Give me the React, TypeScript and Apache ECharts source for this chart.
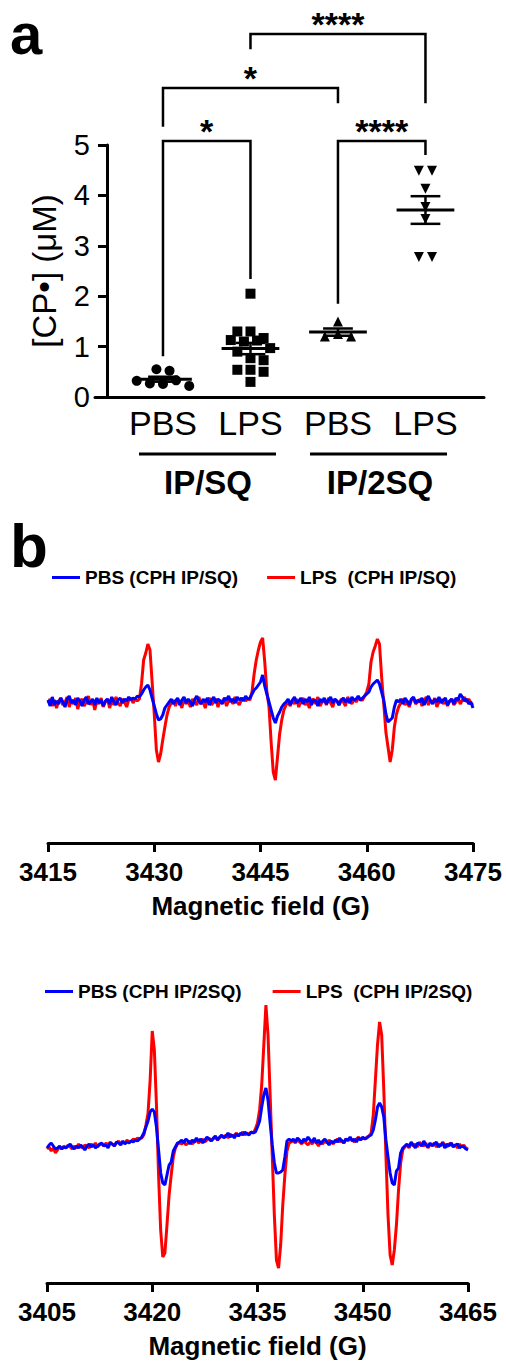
import React, { useEffect, useRef } from 'react';
import * as echarts from 'echarts';

// ---------- Panel a data ----------
const groupNames = ['PBS', 'LPS', 'PBS', 'LPS'];
const treatmentGroups = ['IP/SQ', 'IP/2SQ'];
const pbsIpSq = [0.55, 0.52, 0.32, 0.27, 0.26, 0.33, 0.22];
const lpsIpSq = [2.05, 1.3, 1.3, 1.13, 1.17, 1.1, 1.12, 0.97, 0.9, 0.77, 0.73, 0.54, 0.54, 0.5, 0.3];
const pbsIp2Sq = [1.2, 1.25, 1.2, 1.5];
const lpsIp2Sq = [4.49, 4.49, 4.13, 3.77, 3.53, 2.78, 2.78];
const yTicksA = [0, 1, 2, 3, 4, 5];
// significance comparisons: [groupA, groupB, label]
const comparisons: [number, number, string][] = [
  [0, 1, '*'],
  [2, 3, '****'],
  [0, 2, '*'],
  [1, 3, '****'],
];

// ---------- Panel b data (EPR spectra, 0.3 G sampling) ----------
const field1Start = 3415;
const field1Ticks = [3415, 3430, 3445, 3460, 3475];
const field2Start = 3405;
const field2Ticks = [3405, 3420, 3435, 3450, 3465];
const fieldStep = 0.3;

const pbsSpec1 = [
  2, -4, 5, -3, 1, -2, 4, 0, -5, 3, 6, -1, 2, -3, 4, 1, -4, 2, 5, -2, 0, 3, -3, 4, -1, 2, -4, 1, 3, -2, 5, 0, -3, 2, 4, -1, 3, 1, 5, 2, 4, 3, 6,
  5, 8, 12, 15, 17, 12, 4, -4, -12, -18, -17, -13, -6, -3, 0,
  3, -2, 1, 4, -3, 2, 5, -1, 3, 0, -4, 2, 6, 1, -2, 3, 0, 4, -3, 2, 5, -1, 3, 1, -2, 4, 2, 6, 0, 3, -1, 5, 2, 4, 1, 6, 3,
  4, 8, 12, 14, 17, 20, 27, 16, 8, 0, -8, -16, -21, -14, -10, -5, -2, 0,
  3, -3, 2, 5, -1, 1, 4, -2, 3, 0, 5, -3, 2, 1, -4, 3, 0, 4, -2, 2, 5, -1, 3, 1, -3, 2, 4, 0, 3, -1, 5, 2, 3, 6, 2,
  4, 6, 8, 10, 15, 18, 20, 22, 18, 10, 2, -12, -20, -18, -16, -5, 2, 0,
  3, -2, 4, 1, -3, 3, 5, -1, 2, 0, 4, -3, 2, 6, 1, -2, 3, 0, 5, -1, 2, 4, -3, 1, 3, -2, 4, 2, 8, 5, 1, 3, -2, 0, -6,
];
const lpsSpec1 = [
  -1, 3, -4, 2, -6, 1, 4, -3, 0, 5, -5, 2, -2, 4, -7, 1, 3, -4, 0, 6, -3, 2, -8, 1, -2, 4, -5, 0, 3, -6, 2, -3, 5, -1, -4, 3, 0, -5, 2, 4, -1, 3, 1,
  3, 18, 42, 49, 58, 52, 20, -12, -48, -60, -52, -38, -25, -13, -5, -1,
  2, -4, 3, 0, -6, 4, -2, 1, -5, 3, 0, -3, 5, -2, 1, -6, 2, 4, -3, 0, 3, -5, 2, -1, 4, -4, 1, 3, -2, 5, 0, -3, 2, 4, 1, 3,
  2, 10, 28, 42, 52, 60, 64, 40, 10, -5, -40, -70, -78, -55, -32, -18, -8, -3, 0,
  -4, 2, -2, 3, -5, 1, 4, -3, 0, -6, 2, 3, -2, 5, -4, 0, 2, -3, 4, -1, -5, 2, 1, -3, 3, 0, -4, 5, 1, -2, 3, 0, 4, 2,
  2, 6, 10, 18, 40, 50, 56, 63, 58, 25, -2, -30, -45, -60, -48, -25, -12, -5, -1,
  3, -3, 1, -5, 2, 4, -2, 0, 3, -4, 1, 5, -3, 2, -1, 4, -5, 0, 3, -2, 2, -4, 1, 3, -3, 0, 4, -2, 2, 5, 0, 3, -1, -3,
];
const pbsSpec2 = [
  -3, 0, 2, -1, -4, -3, -1, -4, -2, -3, -1, 1, -2, -4, -1, -3, 0, -2, -5, -1, 1, -2, 0, -3, -1, 1, 2, -1, 0, -3, 2, 1, -1, 3, 2, 0, 4, 1, 3, 2, 4, 3, 5, 4, 6,
  8, 12, 18, 24, 33, 36, 33, 18, -5, -28, -38, -40, -30, -20, -17, -6, -2, 2, 3,
  5, 2, 6, 4, 1, 5, 3, 7, 4, 6, 2, 5, 8, 6, 4, 7, 9, 5, 8, 10, 7, 9, 12, 8, 10, 7, 11, 9, 12, 10, 13, 11, 10, 13, 12,
  13, 18, 24, 38, 50, 57, 45, 22, 0, -18, -28, -28, -27, -25, -12, 4, 6, 4,
  6, 3, 7, 5, 2, 6, 4, 8, 5, 3, 7, 2, 5, 1, 4, 6, 3, 0, 4, 2, 5, 3, 7, 4, 2, 6, 5, 8, 4, 6, 3, 7, 5, 8, 6, 7, 9,
  10, 15, 25, 38, 42, 38, 28, 5, -12, -28, -38, -40, -26, -23, -8, -3, -1,
  1, -2, 3, 0, -3, 2, 1, -1, 4, 0, -2, 2, -1, 1, 3, -2, 0, 2, -3, 1, -1, 2, -2, 0, 1, -3, -1, -2, -4, -5,
];
const lpsSpec2 = [
  -4, -2, -6, -3, -8, -5, -2, -4, -1, -3, 0, -2, -4, -1, -3, 1, -2, -3, 0, -1, -3, 1, -1, 2, -2, 0, 1, -1, 2, 0, 3, 1, -1, 2, 4, 1, 3, 2, 5, 3, 4, 6, 5, 7, 6,
  7, 10, 20, 32, 65, 114, 95, 40, -30, -85, -112, -108, -80, -50, -30, -12, -3, 1, 2,
  1, 3, 0, 2, 4, 1, 3, 5, 2, 4, 6, 3, 5, 7, 4, 6, 8, 5, 7, 9, 8, 10, 7, 11, 9, 10, 12, 9, 11, 13, 10, 12, 11, 13, 12,
  16, 22, 35, 60, 100, 140, 110, 50, -10, -70, -115, -123, -100, -60, -30, -6, 2, 3,
  4, 2, 5, 3, 1, 4, 2, 0, 3, 1, 4, 2, -1, 3, 1, 4, 2, 5, 3, 1, 4, 6, 3, 5, 2, 6, 4, 7, 5, 3, 6, 8, 5, 7, 6, 8, 9,
  12, 30, 65, 100, 123, 110, 55, -10, -70, -110, -120, -105, -80, -45, -18, -5, -2,
  0, -3, 2, -1, 1, -2, 3, 0, -1, 2, -3, 1, 0, 2, -2, 1, -1, 3, 0, -2, 1, 2, -1, 0, -3, 1, -2, 0, -3, -4,
];
const seriesNames1 = ['PBS (CPH IP/SQ)', 'LPS  (CPH IP/SQ)'];
const seriesNames2 = ['PBS (CPH IP/2SQ)', 'LPS  (CPH IP/2SQ)'];

// ---------- style / layout ----------
const FONT = "'Liberation Sans', Arial, Helvetica, sans-serif";
const BLUE = '#0000ff';
const RED = '#ff0000';
const BLACK = '#000000';
// bracket layout in axis units: [top, leftLegEnd, rightLegEnd]
const bracketLayout = [
  [5.08, 0.81, 2.34],
  [5.08, 1.85, 4.8],
  [6.13, 5.36, 5.83],
  [7.2, 6.9, 5.83],
];

function swarmOffsets(values: number[], rowSpan: number, step: number): number[] {
  const order = values.map((_, k) => k).sort((a, b) => values[a] - values[b] || a - b);
  const offsets = new Array(values.length).fill(0);
  let k = 0;
  while (k < order.length) {
    const start = values[order[k]];
    const row: number[] = [];
    while (k < order.length && values[order[k]] - start < rowSpan) {
      row.push(order[k]);
      k++;
    }
    row.sort((a, b) => a - b);
    row.forEach((idx, j) => {
      offsets[idx] = (j - (row.length - 1) / 2) * step;
    });
  }
  return offsets;
}

function meanSem(values: number[]): [number, number] {
  const n = values.length;
  const m = values.reduce((s, v) => s + v, 0) / n;
  const sd = Math.sqrt(values.reduce((s, v) => s + (v - m) * (v - m), 0) / (n - 1));
  return [m, sd / Math.sqrt(n)];
}

function spectrum(values: number[], start: number) {
  return values.map((v, i) => [+(start + i * fieldStep).toFixed(2), v]);
}

function buildOption(): any {
  const groups = [pbsIpSq, lpsIpSq, pbsIp2Sq, lpsIp2Sq];
  const symbols = ['circle', 'rect', 'triangle', 'triangle'];
  const rotates = [0, 0, 0, 180];
  const scatterSeries = groups.map((vals, gi) => {
    const off = swarmOffsets(vals, 0.19, 0.15);
    return {
      type: 'scatter',
      name: groupNames[gi] + ' ' + treatmentGroups[gi < 2 ? 0 : 1],
      xAxisIndex: 0,
      yAxisIndex: 0,
      symbol: symbols[gi],
      symbolRotate: rotates[gi],
      symbolSize: 10,
      itemStyle: { color: BLACK, opacity: 1 },
      data: vals.map((v, k) => [gi + off[k], v]),
      z: 2,
    };
  });

  const statsData = groups.map((vals, gi) => {
    const [m, s] = meanSem(vals);
    return [gi, m, s];
  });

  const lineStyle = { stroke: BLACK, lineWidth: 2.5 };
  const meanSeries = {
    type: 'custom',
    xAxisIndex: 0,
    yAxisIndex: 0,
    z: 4,
    data: statsData,
    renderItem: (_p: any, api: any) => {
      const i = api.value(0);
      const m = api.value(1);
      const s = api.value(2);
      const hw = 0.33;
      const hc = 0.17;
      const a = api.coord([i - hw, m]);
      const b = api.coord([i + hw, m]);
      const t1 = api.coord([i - hc, m + s]);
      const t2 = api.coord([i + hc, m + s]);
      const b1 = api.coord([i - hc, m - s]);
      const b2 = api.coord([i + hc, m - s]);
      const tc = api.coord([i, m + s]);
      const bc = api.coord([i, m - s]);
      return {
        type: 'group',
        children: [
          { type: 'line', shape: { x1: a[0], y1: a[1], x2: b[0], y2: b[1] }, style: { ...lineStyle, lineWidth: 3 } },
          { type: 'line', shape: { x1: t1[0], y1: t1[1], x2: t2[0], y2: t2[1] }, style: lineStyle },
          { type: 'line', shape: { x1: b1[0], y1: b1[1], x2: b2[0], y2: b2[1] }, style: lineStyle },
          { type: 'line', shape: { x1: tc[0], y1: tc[1], x2: bc[0], y2: bc[1] }, style: lineStyle },
        ],
      };
    },
  };

  const bracketSeries = {
    type: 'custom',
    xAxisIndex: 0,
    yAxisIndex: 0,
    clip: false,
    z: 5,
    data: comparisons.map((c, k) => [c[0], c[1], ...bracketLayout[k], k]),
    renderItem: (_p: any, api: any) => {
      const k = api.value(5);
      const from = api.value(0);
      const to = api.value(1);
      const top = api.value(2);
      const le = api.value(3);
      const re = api.value(4);
      const p1 = api.coord([from, le]);
      const p2 = api.coord([from, top]);
      const p3 = api.coord([to, top]);
      const p4 = api.coord([to, re]);
      return {
        type: 'group',
        children: [
          {
            type: 'polyline',
            shape: { points: [p1, p2, p3, p4] },
            style: { stroke: BLACK, fill: 'none', lineWidth: 2.5 },
          },
          {
            type: 'text',
            x: (p2[0] + p3[0]) / 2,
            y: p2[1] - 10,
            style: {
              text: comparisons[k][2],
              fontSize: 34,
              fontWeight: 'bold',
              fontFamily: FONT,
              fill: BLACK,
              align: 'center',
              verticalAlign: 'middle',
              textAlign: 'center',
              textVerticalAlign: 'middle',
            },
          },
        ],
      };
    },
  };

  const specLine = (name: string, color: string, data: number[][], axis: number) => ({
    type: 'line',
    name,
    xAxisIndex: axis,
    yAxisIndex: axis,
    showSymbol: false,
    symbol: 'none',
    lineStyle: { color, width: 3 },
    itemStyle: { color },
    data,
    z: color === BLUE ? 3 : 2,
  });

  const axisLineStyle = { color: BLACK, width: 3 };
  const labelBold = { color: BLACK, fontFamily: FONT, fontWeight: 'bold', fontSize: 26 };
  const plainNumber = (v: number) => String(Math.round(v));

  const textStyleSmall = { fontSize: 19, fontWeight: 'bold', color: BLACK, fontFamily: FONT };
  const panelLetter = (text: string, y: number, size: number) => ({
    type: 'text',
    x: 10,
    y,
    style: {
      text,
      fontSize: size,
      fontWeight: 'bold',
      fontFamily: FONT,
      fill: BLACK,
      textVerticalAlign: 'middle',
      verticalAlign: 'middle',
    },
  });

  return {
    animation: false,
    backgroundColor: '#ffffff',
    textStyle: { fontFamily: FONT },
    grid: [
      { left: 95, right: 22, top: 145, height: 252 },
      { left: 48, right: 33, top: 602, height: 241 },
      { left: 47, right: 38, top: 985, height: 298 },
    ],
    legend: [
      {
        data: seriesNames1,
        left: 52,
        top: 568,
        padding: 0,
        icon: 'rect',
        itemWidth: 28,
        itemHeight: 3,
        itemGap: 29,
        textStyle: textStyleSmall,
      },
      {
        data: seriesNames2,
        left: 45,
        top: 982,
        padding: 0,
        icon: 'rect',
        itemWidth: 28,
        itemHeight: 3,
        itemGap: 31,
        textStyle: textStyleSmall,
      },
    ],
    xAxis: [
      {
        type: 'value',
        gridIndex: 0,
        min: -0.777,
        max: 3.669,
        axisLine: { show: true, onZero: false, lineStyle: axisLineStyle },
        axisTick: { show: false },
        splitLine: { show: false },
        axisLabel: {
          customValues: [0, 1, 2, 3],
          formatter: (v: number) => groupNames[Math.round(v)],
          fontSize: 34,
          color: BLACK,
          fontFamily: FONT,
          margin: 9,
        },
      },
      {
        type: 'value',
        gridIndex: 1,
        min: field1Ticks[0],
        max: field1Ticks[field1Ticks.length - 1],
        axisLine: { show: true, onZero: false, lineStyle: axisLineStyle },
        axisTick: { show: true, customValues: field1Ticks, length: 9, lineStyle: axisLineStyle },
        splitLine: { show: false },
        axisLabel: { ...labelBold, customValues: field1Ticks, margin: 16, formatter: plainNumber },
        name: 'Magnetic field (G)',
        nameLocation: 'middle',
        nameGap: 50,
        nameTextStyle: labelBold,
      },
      {
        type: 'value',
        gridIndex: 2,
        min: field2Ticks[0],
        max: field2Ticks[field2Ticks.length - 1],
        axisLine: { show: true, onZero: false, lineStyle: axisLineStyle },
        axisTick: { show: true, customValues: field2Ticks, length: 9, lineStyle: axisLineStyle },
        splitLine: { show: false },
        axisLabel: { ...labelBold, customValues: field2Ticks, margin: 16, formatter: plainNumber },
        name: 'Magnetic field (G)',
        nameLocation: 'middle',
        nameGap: 50,
        nameTextStyle: labelBold,
      },
    ],
    yAxis: [
      {
        type: 'value',
        gridIndex: 0,
        min: yTicksA[0],
        max: yTicksA[yTicksA.length - 1],
        interval: 1,
        offset: -12,
        axisLine: { show: true, onZero: false, lineStyle: axisLineStyle },
        axisTick: { show: true, length: 9, lineStyle: axisLineStyle },
        splitLine: { show: false },
        axisLabel: { fontSize: 29, color: BLACK, fontFamily: FONT, margin: 17 },
        name: '[CP•] (μM)',
        nameLocation: 'middle',
        nameRotate: 90,
        nameGap: 46,
        nameTextStyle: { fontSize: 33, color: BLACK, fontFamily: FONT },
      },
      { type: 'value', gridIndex: 1, min: -141, max: 100, show: false },
      { type: 'value', gridIndex: 2, min: -138, max: 160, show: false },
    ],
    graphic: [
      panelLetter('a', 33, 58),
      panelLetter('b', 545, 62),
      { type: 'line', shape: { x1: 139, y1: 454, x2: 276, y2: 454 }, style: { stroke: BLACK, lineWidth: 3 } },
      { type: 'line', shape: { x1: 310, y1: 454, x2: 447, y2: 454 }, style: { stroke: BLACK, lineWidth: 3 } },
      { type: 'text', x: 208, y: 482, style: { text: treatmentGroups[0], fontSize: 33, fontWeight: 'bold', fontFamily: FONT, fill: BLACK, textAlign: 'center', align: 'center', textVerticalAlign: 'middle', verticalAlign: 'middle' } },
      { type: 'text', x: 380, y: 482, style: { text: treatmentGroups[1], fontSize: 33, fontWeight: 'bold', fontFamily: FONT, fill: BLACK, textAlign: 'center', align: 'center', textVerticalAlign: 'middle', verticalAlign: 'middle' } },
    ],
    series: [
      ...scatterSeries,
      meanSeries,
      bracketSeries,
      specLine(seriesNames1[1], RED, spectrum(lpsSpec1, field1Start), 1),
      specLine(seriesNames1[0], BLUE, spectrum(pbsSpec1, field1Start), 1),
      specLine(seriesNames2[1], RED, spectrum(lpsSpec2, field2Start), 2),
      specLine(seriesNames2[0], BLUE, spectrum(pbsSpec2, field2Start), 2),
    ],
  };
}

export default function App() {
  const ref = useRef<HTMLDivElement>(null);
  useEffect(() => {
    if (!ref.current) return;
    const chart = echarts.init(ref.current, undefined, { renderer: 'svg' });
    chart.setOption(buildOption());
    return () => chart.dispose();
  }, []);
  return (
    <div
      ref={ref}
      style={{ position: 'absolute', left: 0, top: 0, width: 506, height: 1364, background: '#fff' }}
    />
  );
}
